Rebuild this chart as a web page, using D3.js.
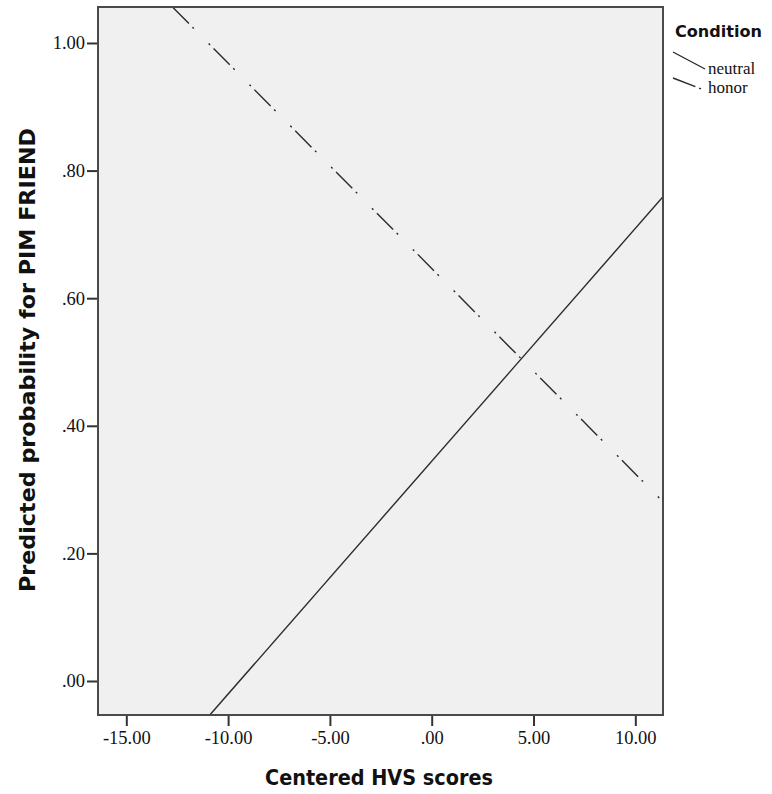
<!DOCTYPE html>
<html>
<head>
<meta charset="utf-8">
<script src="https://cdn.jsdelivr.net/npm/d3@7"></script>
<style>
  body { margin: 0; background: #fff; }
  svg { display: block; }
</style>
</head>
<body>
<script>
// chart values
var xTicks = [-15, -10, -5, 0, 5, 10];
var yTicks = [0, 0.2, 0.4, 0.6, 0.8, 1.0];
var conditions = ["neutral", "honor"];
// fitted lines, endpoints (HVS score, probability)
var neutralX = [-10.89, 11.36];
var neutralY = [-0.053, 0.759];
var honorX = [-12.72, 11.36];
var honorY = [1.056, 0.281];

var svgWidth = 772;
var svgHeight = 794;

var margin = { top: 7, right: 109, bottom: 79, left: 98 };
var width = svgWidth - margin.left - margin.right;
var height = svgHeight - margin.top - margin.bottom;

var svg = d3.select("body")
    .append("svg")
    .attr("width", svgWidth)
    .attr("height", svgHeight);

var chartGroup = svg.append("g")
    .attr("transform", `translate(${margin.left}, ${margin.top})`);

// scales
var xScale = d3.scaleLinear()
    .domain([-16.39, 11.36])
    .range([0, width]);
var yScale = d3.scaleLinear()
    .domain([-0.0533, 1.0564])
    .range([height, 0]);

// SPSS style: ".80", "-15.00"
var fmt = function(v) {
    var s = d3.format(".2f")(v).replace(/\u2212/g, "-");
    return s.replace(/^0\./, ".").replace(/^-0\./, "-.");
};

// plot background
chartGroup.append("rect")
    .attr("width", width)
    .attr("height", height)
    .attr("fill", "#f0f0f0");

svg.append("clipPath")
    .attr("id", "plotClip")
    .append("rect")
    .attr("width", width)
    .attr("height", height);

// axes
var bottomAxis = d3.axisBottom(xScale).tickValues(xTicks).tickFormat(fmt).tickSizeInner(11).tickSizeOuter(0).tickPadding(5);
var leftAxis = d3.axisLeft(yScale).tickValues(yTicks).tickFormat(fmt).tickSizeInner(11).tickSizeOuter(0).tickPadding(2);

var xAxisG = chartGroup.append("g")
    .attr("transform", `translate(0, ${height})`)
    .call(bottomAxis);
var yAxisG = chartGroup.append("g")
    .call(leftAxis);

[xAxisG, yAxisG].forEach(function(g) {
    g.select(".domain").remove();
    g.selectAll(".tick line").attr("stroke", "#333").attr("stroke-width", 2);
    g.selectAll(".tick text")
        .attr("fill", "#111")
        .style("font-family", "'Liberation Serif', 'Times New Roman', serif")
        .style("font-size", "18.5px");
});

// lines
var lineGen = d3.line()
    .x(d => xScale(d[0]))
    .y(d => yScale(d[1]));

var lineData = [
    { name: "neutral", pts: d3.zip(neutralX, neutralY), dash: null },
    { name: "honor", pts: d3.zip(honorX, honorY), dash: "23,5,2,21,2,5" }
];

chartGroup.append("g")
    .attr("clip-path", "url(#plotClip)")
    .selectAll("path")
    .data(lineData)
    .enter()
    .append("path")
    .attr("d", d => lineGen(d.pts))
    .attr("fill", "none")
    .attr("stroke", "#2a2a2a")
    .attr("stroke-width", 1.4)
    .attr("stroke-dasharray", d => d.dash);

// frame
chartGroup.append("rect")
    .attr("width", width)
    .attr("height", height)
    .attr("fill", "none")
    .attr("stroke", "#4a4a4a")
    .attr("stroke-width", 2);

// axis titles
svg.append("text")
    .attr("x", 265)
    .attr("y", 785)
    .attr("textLength", 228)
    .attr("lengthAdjust", "spacingAndGlyphs")
    .style("font-family", "'DejaVu Sans', sans-serif")
    .style("font-weight", "bold")
    .style("font-size", "21px")
    .attr("fill", "#111")
    .text("Centered HVS scores");

svg.append("text")
    .attr("transform", "translate(35, 592) rotate(-90)")
    .attr("textLength", 464)
    .attr("lengthAdjust", "spacingAndGlyphs")
    .style("font-family", "'DejaVu Sans', sans-serif")
    .style("font-weight", "bold")
    .style("font-size", "21px")
    .attr("fill", "#111")
    .text("Predicted probability for PIM FRIEND");

// legend
var legend = svg.append("g");
legend.append("text")
    .attr("x", 675)
    .attr("y", 37)
    .attr("textLength", 87)
    .attr("lengthAdjust", "spacingAndGlyphs")
    .style("font-family", "'DejaVu Sans', sans-serif")
    .style("font-weight", "bold")
    .style("font-size", "16.5px")
    .attr("fill", "#111")
    .text("Condition");

var legendSwatch = [
    { x1: 673, y1: 52, x2: 705, y2: 69, dash: null },
    { x1: 673, y1: 78, x2: 704, y2: 90, dash: "24,4,2,40" }
];

legend.selectAll("line")
    .data(conditions)
    .enter()
    .append("line")
    .attr("x1", (d, i) => legendSwatch[i].x1)
    .attr("y1", (d, i) => legendSwatch[i].y1)
    .attr("x2", (d, i) => legendSwatch[i].x2)
    .attr("y2", (d, i) => legendSwatch[i].y2)
    .attr("stroke", "#2a2a2a")
    .attr("stroke-width", 1.4)
    .attr("stroke-dasharray", (d, i) => legendSwatch[i].dash);

legend.selectAll("text.item")
    .data(conditions)
    .enter()
    .append("text")
    .attr("class", "item")
    .attr("x", 708)
    .attr("y", (d, i) => 74 + i * 19)
    .style("font-family", "'Liberation Serif', 'Times New Roman', serif")
    .style("font-size", "17px")
    .attr("fill", "#111")
    .text(d => d);
</script>
</body>
</html>
